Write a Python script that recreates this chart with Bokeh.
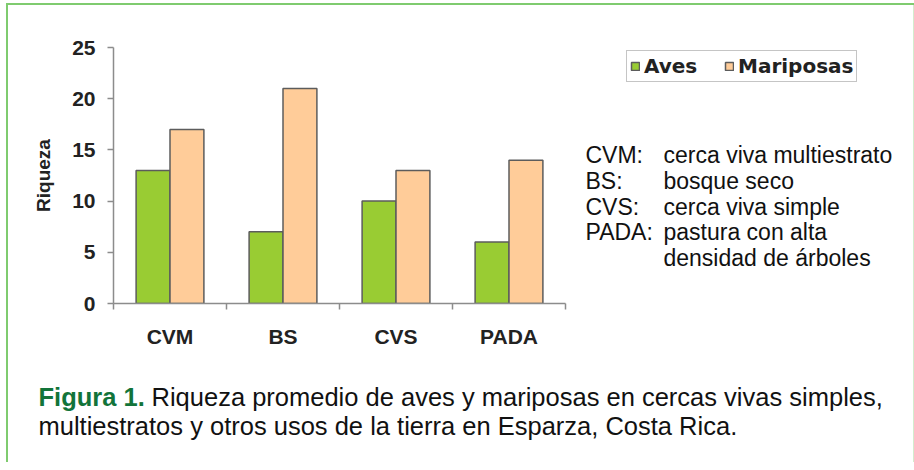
from bokeh.plotting import figure
from bokeh.layouts import column
from bokeh.models import (Range1d, LinearAxis, FixedTicker, Label, Legend, LegendItem,
                          ColumnDataSource, CustomJSTickFormatter)
from bokeh.transform import dodge
from bokeh.embed import file_html
from bokeh.resources import INLINE

# ---------------- data ----------------
categories = ["CVM", "BS", "CVS", "PADA"]
aves = [13, 7, 10, 6]
mariposas = [17, 21, 13, 14]
series_names = ["Aves", "Mariposas"]
y_ticks = [0, 5, 10, 15, 20, 25]
y_title = "Riqueza"
abbreviations = ["CVM:", "BS:", "CVS:", "PADA:", ""]
descriptions = ["cerca viva multiestrato", "bosque seco", "cerca viva simple",
                "pastura con alta", "densidad de árboles"]
caption_lead = "Figura 1."
caption_lines = ["Riqueza promedio de aves y mariposas en cercas vivas simples,",
                 "multiestratos y otros usos de la tierra en Esparza, Costa Rica."]

# ---------------- style ----------------
W = 908
H1, H2 = 360, 99
FL, FT, FB = 107, 44, 300          # chart frame edges in canvas px
CAT_PX = 113.0                     # pixel width of one category slot
GREEN = "#99cc33"
PEACH = "#ffcc99"
EDGE = "#5c5c5c"
AXIS = "#8c8c8c"
FONT = "Liberation Sans"

n = len(categories)
idx = list(range(n))
source = ColumnDataSource(dict(pos=idx, cat=categories, aves=aves, mariposas=mariposas))

p = figure(width=W, height=H1, output_backend="svg", toolbar_location=None,
           x_range=Range1d(-0.5, -0.5 + (W - FL) / CAT_PX),
           y_range=Range1d(0, max(y_ticks)),
           x_axis_location=None,
           min_border_left=FL, min_border_right=0,
           min_border_top=FT, min_border_bottom=H1 - FB)
p.frame_align = False
p.background_fill_color = None
p.border_fill_color = None
p.outline_line_color = None
p.xgrid.visible = False
p.ygrid.visible = False

r1 = p.vbar(x=dodge("pos", -0.15), top="aves", width=0.3, source=source,
            fill_color=GREEN, line_color=EDGE, line_width=1.5)
r2 = p.vbar(x=dodge("pos", 0.15), top="mariposas", width=0.3, source=source,
            fill_color=PEACH, line_color=EDGE, line_width=1.5)

# y axis
ya = p.yaxis[0]
ya.ticker = FixedTicker(ticks=y_ticks)
ya.bounds = (0, max(y_ticks))
ya.axis_line_color = AXIS
ya.axis_line_width = 1.5
ya.major_tick_line_color = AXIS
ya.major_tick_line_width = 1.5
ya.major_tick_in = 0
ya.major_tick_out = 6
ya.minor_tick_line_color = None
ya.major_label_standoff = 12
ya.major_label_text_font = FONT
ya.major_label_text_font_style = "bold"
ya.major_label_text_font_size = "21px"
ya.major_label_text_color = "#222222"
ya.axis_label = y_title
ya.axis_label_text_font = FONT
ya.axis_label_text_font_style = "bold"
ya.axis_label_text_font_size = "19px"
ya.axis_label_text_color = "#222222"
ya.axis_label_standoff = 15

# x axis: boundary ticks between categories (no labels)
xa_edges = LinearAxis(ticker=FixedTicker(ticks=[i - 0.5 for i in range(n + 1)]),
                      bounds=(-0.5, n - 0.5),
                      formatter=CustomJSTickFormatter(code="return ''"))
xa_edges.axis_line_color = AXIS
xa_edges.axis_line_width = 1.5
xa_edges.major_tick_line_color = AXIS
xa_edges.major_tick_line_width = 1.5
xa_edges.major_tick_in = 0
xa_edges.major_tick_out = 6
xa_edges.minor_tick_line_color = None
xa_edges.major_label_text_font_size = "0px"
xa_edges.major_label_standoff = 0
p.add_layout(xa_edges, "below")

# x axis: category labels at category centres
xa_cat = LinearAxis(ticker=FixedTicker(ticks=idx), bounds=(-0.5, n - 0.5),
                    major_label_overrides={i: c for i, c in zip(idx, categories)})
xa_cat.axis_line_color = None
xa_cat.major_tick_line_color = None
xa_cat.minor_tick_line_color = None
xa_cat.major_label_standoff = 9
xa_cat.major_label_text_font = FONT
xa_cat.major_label_text_font_style = "bold"
xa_cat.major_label_text_font_size = "21px"
xa_cat.major_label_text_color = "#222222"
p.add_layout(xa_cat, "below")

# legend
legend = Legend(items=[LegendItem(label=series_names[0], renderers=[r1]),
                       LegendItem(label=series_names[1], renderers=[r2])],
                location=(620 - FL, FB - 79), orientation="horizontal",
                glyph_width=10, glyph_height=10, label_standoff=4, spacing=18,
                label_width=62, padding=3, margin=0,
                label_text_font="DejaVu Sans", label_text_font_style="bold",
                label_text_font_size="20px", label_text_color="#222222",
                border_line_color=AXIS, border_line_width=1,
                background_fill_color="white", background_fill_alpha=1)
p.add_layout(legend)


def lab(fig, ox, oy, cx, cy, text, **kw):
    opts = dict(x=cx - ox, y=oy - cy, x_units="screen", y_units="screen", text=text,
                text_baseline="middle", text_align="left", text_font=FONT,
                text_font_size="23px", text_color="#111111")
    opts.update(kw)
    fig.add_layout(Label(**opts))


# definitions (inside the chart frame, right of the bars)
for i, (ab, de) in enumerate(zip(abbreviations, descriptions)):
    cy = 151.5 + 25.8 * i
    if ab:
        lab(p, FL, FB, 579, cy, ab)
    lab(p, FL, FB, 657, cy, de)

# caption figure
c = figure(width=W, height=H2, output_backend="svg", toolbar_location=None,
           x_range=Range1d(0, W), y_range=Range1d(0, H2),
           x_axis_location=None, y_axis_location=None,
           min_border=0, min_border_left=0, min_border_right=0,
           min_border_top=0, min_border_bottom=0)
c.frame_align = False
c.background_fill_color = None
c.border_fill_color = None
c.outline_line_color = None
c.xgrid.visible = False
c.ygrid.visible = False

CAP = "25.5px"
lab(c, 0, H2, 32, 33, caption_lead, text_font_style="bold", text_color="#12743a", text_font_size=CAP)
lab(c, 0, H2, 145, 33, caption_lines[0], text_font_size=CAP)
lab(c, 0, H2, 32, 62, caption_lines[1], text_font_size=CAP)

layout = column(p, c, spacing=0,
                styles={"margin-left": "6px", "margin-top": "3px",
                        "box-shadow": "inset 2px 2px 0 0 #7fcb6f, inset -1px 0 0 0 #d4ecce"})

open("out.html", "w").write(file_html(layout, INLINE))
